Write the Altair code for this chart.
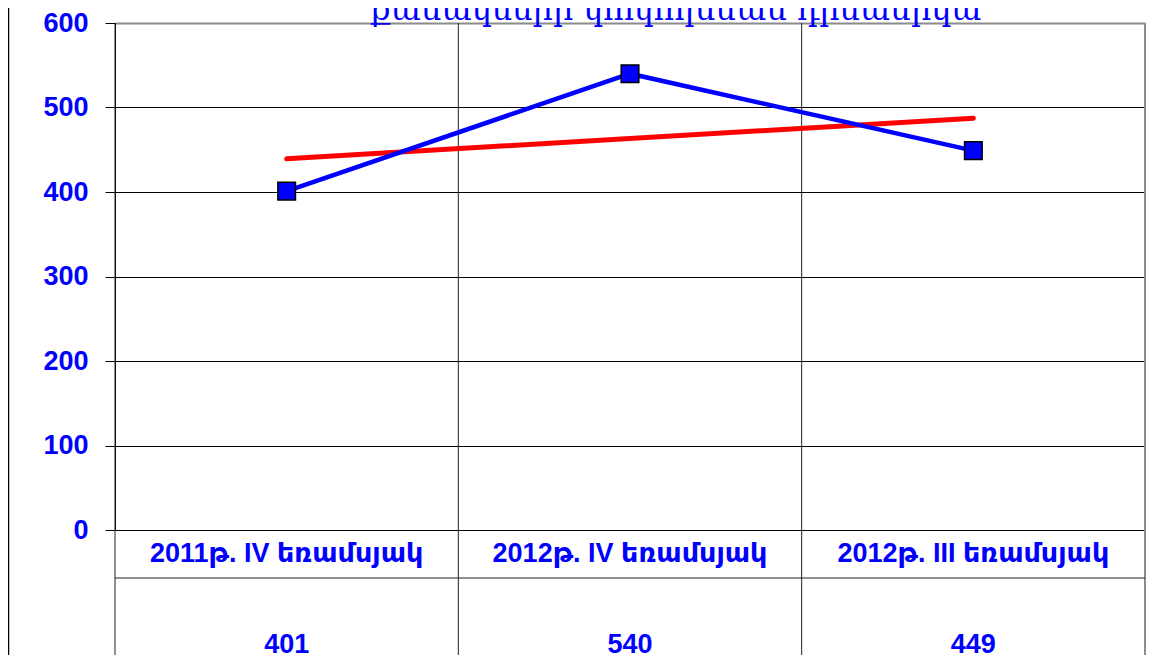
import altair as alt
import pandas as pd

# ---- data ----
categories = ["2011թ. IV եռամսյակ", "2012թ. IV եռամսյակ", "2012թ. III եռամսյակ"]
values = [401, 540, 449]
title_text = "քանակների փոփոխման դինամիկա"
y_ticks = [0, 100, 200, 300, 400, 500, 600]

BLUE = "#0000FF"
RED = "#FF0000"
SANS = "Liberation Sans, DejaVu Sans, Arial"

PLOT_W = 1030
PLOT_H = 507
TOTAL_H = 640

df = pd.DataFrame({"idx": list(range(len(categories))), "cat": categories, "value": values})
bounds = pd.DataFrame({"b": [i - 0.5 for i in range(len(categories) + 1)]})
table = pd.DataFrame(
    {
        "idx": list(range(len(categories))) * 2,
        "row": ["label"] * len(categories) + ["value"] * len(categories),
        "txt": categories + [str(v) for v in values],
    }
)

xscale = alt.Scale(domain=[-0.5, len(categories) - 0.5], nice=False, zero=False)
yscale = alt.Scale(domain=[0, 600], range=[PLOT_H, 0], nice=False, zero=True)
yaxis = alt.Axis(
    values=y_ticks,
    title=None,
    grid=True,
    gridColor={"expr": "datum.value == 600 ? '#8c8c8c' : '#000000'"},
    gridWidth={"expr": "datum.value == 600 ? 2 : 1"},
    gridOpacity=1,
    domainColor="#000000",
    domainWidth=1,
    tickColor="#000000",
    tickSize=10,
    labelFont=SANS,
    labelFontWeight="bold",
    labelFontSize=27,
    labelColor=BLUE,
    labelPadding=17,
)

base = alt.Chart(df)
X = alt.X("idx:Q", scale=xscale, axis=None)
Y = alt.Y("value:Q", scale=yscale, axis=yaxis)

line = base.mark_line(color=BLUE, strokeWidth=4.5).encode(x=X, y=Y)

trend = (
    base.transform_regression("idx", "value")
    .mark_line(color=RED, strokeWidth=5, strokeCap="round")
    .encode(x=X, y=Y)
)

points = base.mark_point(
    shape="square", size=310, filled=True, fill=BLUE, stroke="#000000", strokeWidth=1.5, opacity=1
).encode(x=X, y=Y)

data_layer = alt.layer(trend, line, points)

vlines = alt.Chart(bounds).mark_rule().encode(
    x=alt.X("b:Q", scale=xscale, axis=None),
    y=alt.value(0),
    y2=alt.value(TOTAL_H),
    color=alt.condition(alt.datum.b > len(categories) - 1, alt.value("#8c8c8c"), alt.value("#222222")),
    strokeWidth=alt.condition(alt.datum.b > len(categories) - 1, alt.value(2), alt.value(1)),
)

one = pd.DataFrame({"t": [title_text]})

hline = alt.Chart(one).mark_rule(color="#222222", strokeWidth=1).encode(
    x=alt.value(0), x2=alt.value(PLOT_W), y=alt.value(555)
)

left_border = alt.Chart(one).mark_rule(color="#000000", strokeWidth=1.5).encode(
    x=alt.value(-106.5), y=alt.value(-23), y2=alt.value(TOTAL_H)
)

title = alt.Chart(one).mark_text(
    font="DejaVu Serif", fontSize=32, color=BLUE, align="center", baseline="alphabetic"
).encode(text="t:N", x=alt.value(561), y=alt.value(-3))

table_text = alt.Chart(table).mark_text(
    font=SANS, fontWeight="bold", fontSize=27, color=BLUE, align="center", baseline="middle"
).encode(
    x=alt.X("idx:Q", scale=xscale, axis=None),
    y=alt.Y("row:N", scale=alt.Scale(type="point", domain=["label", "value"], range=[531, 622], padding=0), axis=None),
    text="txt:N",
)

chart = (
    alt.layer(vlines, hline, left_border, title, data_layer, table_text)
    .resolve_scale(y="independent")
    .properties(
        width=PLOT_W,
        height=TOTAL_H,
        autosize=alt.AutoSizeParams(type="none"),
        padding={"left": 107, "top": 15, "right": 6, "bottom": 0},
        background="white",
    )
    .configure_view(stroke=None)
)

chart.save("out.html", embed_options={"renderer": "svg", "actions": False})
